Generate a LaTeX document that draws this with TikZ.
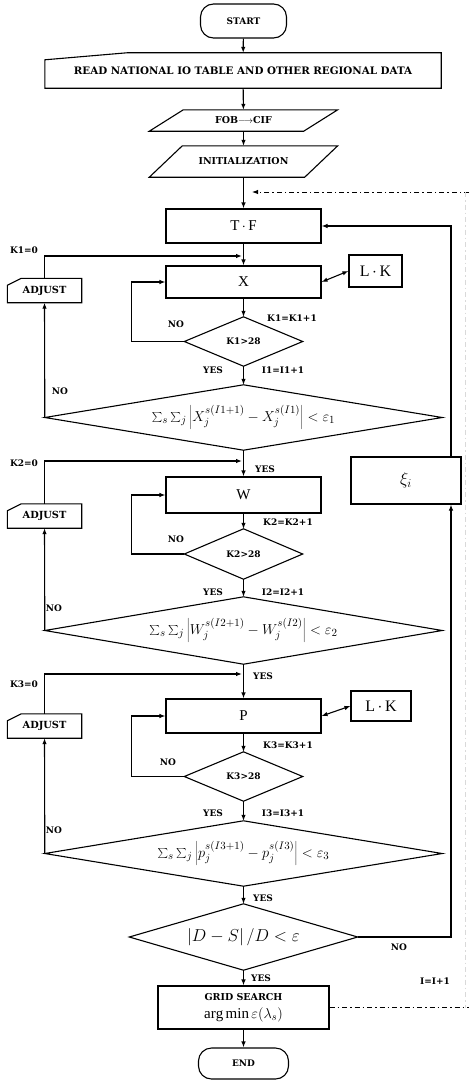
\documentclass[tikz,border=0pt]{standalone}
\usepackage{fontspec}
\setmainfont{Liberation Serif}
\newfontfamily\lblfont{DejaVu Serif}
\usetikzlibrary{arrows.meta,shapes.geometric}
\tikzset{
  ln/.style={line width=1.1pt},
  arr/.style={ln,-{Latex[length=6pt,width=4.5pt]}},
  dblarr/.style={ln,{Latex[length=6pt,width=4.5pt]}-{Latex[length=6pt,width=4.5pt]}},
  dashdot/.style={line width=1pt,dash pattern=on 5pt off 3pt on 1.5pt off 3pt},
  box/.style={draw,ln,rectangle,inner sep=0pt,font=\fontsize{15}{15}\selectfont},
  ghost/.style={rectangle,inner sep=0pt,draw=none,font=\lblfont\bfseries\fontsize{9.5}{10}\selectfont},
  term/.style={draw,ln,rectangle,rounded corners=13pt,inner sep=0pt,font=\lblfont\bfseries\fontsize{9}{9}\selectfont},
  lbl/.style={inner sep=0pt,font=\lblfont\bfseries\fontsize{9}{9}\selectfont},
  small/.style={font=\lblfont\bfseries\fontsize{9}{9}\selectfont},
  adjf/.style={font=\lblfont\bfseries\fontsize{9.8}{10}\selectfont},
  frm/.style={font=\fontsize{15}{15}\selectfont}
}
\begin{document}
\begin{tikzpicture}[x=1pt,y=-1pt]
\useasboundingbox (0,0) rectangle (469,1081);

% top part
\node[term,minimum width=86pt,minimum height=34pt] (start) at (243.5,21) {START};
\node[ghost,minimum width=396pt,minimum height=35pt,font=\lblfont\bfseries\fontsize{10.3}{10}\selectfont] (read) at (243,70.5) {READ NATIONAL IO TABLE AND OTHER REGIONAL DATA};
\draw[ln] ([yshift=-7pt]read.north west) -- ([xshift=82pt]read.north west) -- (read.north east) -- (read.south east) -- (read.south west) -- cycle;
\node[ghost,minimum width=154pt,minimum height=21pt] (fob) at (243.5,120.5) {FOB$\longrightarrow$CIF};
\draw[ln] ([xshift=17pt]fob.north west) -- ([xshift=17pt]fob.north east) -- ([xshift=-17pt]fob.south east) -- ([xshift=-17pt]fob.south west) -- cycle;
\node[ghost,minimum width=155pt,minimum height=31pt] (init) at (243.5,161.5) {INITIALIZATION};
\draw[ln] ([xshift=16.5pt]init.north west) -- ([xshift=16.5pt]init.north east) -- ([xshift=-16.5pt]init.south east) -- ([xshift=-16.5pt]init.south west) -- cycle;

% block 1
\node[box,minimum width=155pt,minimum height=34pt] (tf) at (243.5,226) {T\,$\cdot$\,F};
\node[box,minimum width=155pt,minimum height=32pt] (X) at (243.5,282) {X};
\node[box,minimum width=53pt,minimum height=32pt,font=\fontsize{16}{16}\selectfont] (lk1) at (375.5,271) {L\,$\cdot$\,K};
\node[ghost,minimum width=74pt,minimum height=24pt,adjf] (adj1) at (44.5,290.5) {ADJUST};
\draw[ln] ([yshift=-7pt]adj1.north west) -- ([xshift=14pt]adj1.north west) -- (adj1.north east) -- (adj1.south east) -- (adj1.south west) -- cycle;
\node[ghost,minimum width=118pt,minimum height=49pt,small] (k1) at (243.5,341.5) {K1>28};
\draw[ln] (k1.north) -- (k1.east) -- (k1.south) -- (k1.west) -- cycle;
\node[ghost,minimum width=397pt,minimum height=65pt,frm] (big1) at (243.5,417.5) {$\sum_s\sum_j\left|X_j^{s(I1+1)}-X_j^{s(I1)}\right|<\varepsilon_1$};
\draw[ln] (big1.north) -- (big1.east) -- (big1.south) -- (big1.west) -- cycle;
\node[box,minimum width=110pt,minimum height=47pt,font=\fontsize{18}{18}\selectfont] (xi) at (406,480.5) {$\xi_i$};

% block 2
\node[box,minimum width=155pt,minimum height=36pt] (W) at (243.5,495) {W};
\node[ghost,minimum width=74pt,minimum height=24pt,adjf] (adj2) at (44.5,516) {ADJUST};
\draw[ln] ([yshift=-7pt]adj2.north west) -- ([xshift=14pt]adj2.north west) -- (adj2.north east) -- (adj2.south east) -- (adj2.south west) -- cycle;
\node[ghost,minimum width=118pt,minimum height=50pt,small] (k2) at (243.5,554) {K2>28};
\draw[ln] (k2.north) -- (k2.east) -- (k2.south) -- (k2.west) -- cycle;
\node[ghost,minimum width=397pt,minimum height=67pt,frm] (big2) at (243.5,630.5) {$\sum_s\sum_j\left|W_j^{s(I2+1)}-W_j^{s(I2)}\right|<\varepsilon_2$};
\draw[ln] (big2.north) -- (big2.east) -- (big2.south) -- (big2.west) -- cycle;

% block 3
\node[box,minimum width=155pt,minimum height=34pt] (P) at (243.5,716) {P};
\node[box,minimum width=60pt,minimum height=30pt,font=\fontsize{16}{16}\selectfont] (lk2) at (381,706) {L\,$\cdot$\,K};
\node[ghost,minimum width=74pt,minimum height=24pt,adjf] (adj3) at (44.5,726) {ADJUST};
\draw[ln] ([yshift=-7pt]adj3.north west) -- ([xshift=14pt]adj3.north west) -- (adj3.north east) -- (adj3.south east) -- (adj3.south west) -- cycle;
\node[ghost,minimum width=118pt,minimum height=49pt,small] (k3) at (243.5,776.5) {K3>28};
\draw[ln] (k3.north) -- (k3.east) -- (k3.south) -- (k3.west) -- cycle;
\node[ghost,minimum width=397pt,minimum height=65pt,frm] (big3) at (243.5,853.5) {$\sum_s\sum_j\left|p_j^{s(I3+1)}-p_j^{s(I3)}\right|<\varepsilon_3$};
\draw[ln] (big3.north) -- (big3.east) -- (big3.south) -- (big3.west) -- cycle;

% bottom
\node[ghost,minimum width=228pt,minimum height=66pt,font=\fontsize{16}{16}\selectfont] (ds) at (243.5,937) {$\left|D-S\right|/D<\varepsilon$};
\draw[ln] (ds.north) -- (ds.east) -- (ds.south) -- (ds.west) -- cycle;
\node[box,minimum width=171pt,minimum height=43pt,align=center] (grid) at (243.5,1007.5) {{\lblfont\bfseries\fontsize{9.5}{9}\selectfont GRID SEARCH}\\[3pt]$\arg\min\varepsilon(\lambda_s)$};
\node[term,minimum width=90pt,minimum height=31pt] (end) at (243.5,1063.5) {END};

% coordinates
\coordinate (j1) at (242,256);
\coordinate (j2) at (242,461);
\coordinate (j3) at (242,674);
\coordinate (dtr) at (469,192);
\coordinate (dtl) at (252,192);
\coordinate (dbr) at (469,1007.5);
\coordinate (dvt) at (465.5,192);
\coordinate (dvb) at (465.5,1007.5);

% main flow
\draw[arr] (start) -- (read);
\draw[arr] (read) -- (fob);
\draw[arr] (fob) -- (init);
\draw[arr] (init) -- (tf);
\draw[arr] (tf) -- (X);
\draw[dblarr] (X.east) -- (lk1.west);
\draw[arr] (X) -- (k1);
\draw[arr] (k1.west) -- ++(-53,0) |- (X.west);
\draw[arr] (k1) -- (big1);
\draw[arr] (big1.west) -- (adj1.south);
\draw[arr] (adj1.north) |- (j1);
\draw[arr] (big1) -- (W);
\draw[arr] (W) -- (k2);
\draw[arr] (k2.west) -- ++(-53,0) |- (W.west);
\draw[arr] (k2) -- (big2);
\draw[arr] (big2.west) -- (adj2.south);
\draw[arr] (adj2.north) |- (j2);
\draw[arr] (big2) -- (P);
\draw[dblarr] (P.east) -- (lk2.west);
\draw[arr] (P) -- (k3);
\draw[arr] (k3.west) -- ++(-53,0) |- (P.west);
\draw[arr] (k3) -- (big3);
\draw[arr] (big3.west) -- (adj3.south);
\draw[arr] (adj3.north) |- (j3);
\draw[arr] (big3) -- (ds);
\draw[arr] (ds) -- (grid);
\draw[arr] (grid) -- (end);
\draw[arr] (ds.east) -| ([xshift=45pt]xi.south);
\draw[arr] ([xshift=45pt]xi.north) |- (tf.east);

% dash-dot
\draw[dashdot,-{Latex[length=6pt,width=4.5pt]}] (dtr) -- (dtl);
\draw[dashdot] (grid.east) -- (dbr);
\draw[dashdot,gray!30] (dvt) -- (dvb);

% labels
\node[lbl] (l1) at (24,250) {K1=0};
\node[lbl] (l2) at (176,324) {NO};
\node[lbl] (l3) at (292,318) {K1=K1+1};
\node[lbl] (l4) at (213,370) {YES};
\node[lbl] (l5) at (283,370) {I1=I1+1};
\node[lbl] (l6) at (60,391) {NO};
\node[lbl] (l7) at (24,463) {K2=0};
\node[lbl] (l8) at (265,469) {YES};
\node[lbl] (l9) at (288,522) {K2=K2+1};
\node[lbl] (l10) at (176,539) {NO};
\node[lbl] (l11) at (213,592) {YES};
\node[lbl] (l12) at (283,592) {I2=I2+1};
\node[lbl] (l13) at (54,608) {NO};
\node[lbl] (l14) at (24,684) {K3=0};
\node[lbl] (l15) at (263,676) {YES};
\node[lbl] (l16) at (288,745) {K3=K3+1};
\node[lbl] (l17) at (168,762) {NO};
\node[lbl] (l18) at (213,813) {YES};
\node[lbl] (l19) at (283,813) {I3=I3+1};
\node[lbl] (l20) at (54,830) {NO};
\node[lbl] (l21) at (263,898) {YES};
\node[lbl] (l22) at (399,947) {NO};
\node[lbl] (l23) at (261,978) {YES};
\node[lbl] (l24) at (435,981) {I=I+1};
\end{tikzpicture}
\end{document}
